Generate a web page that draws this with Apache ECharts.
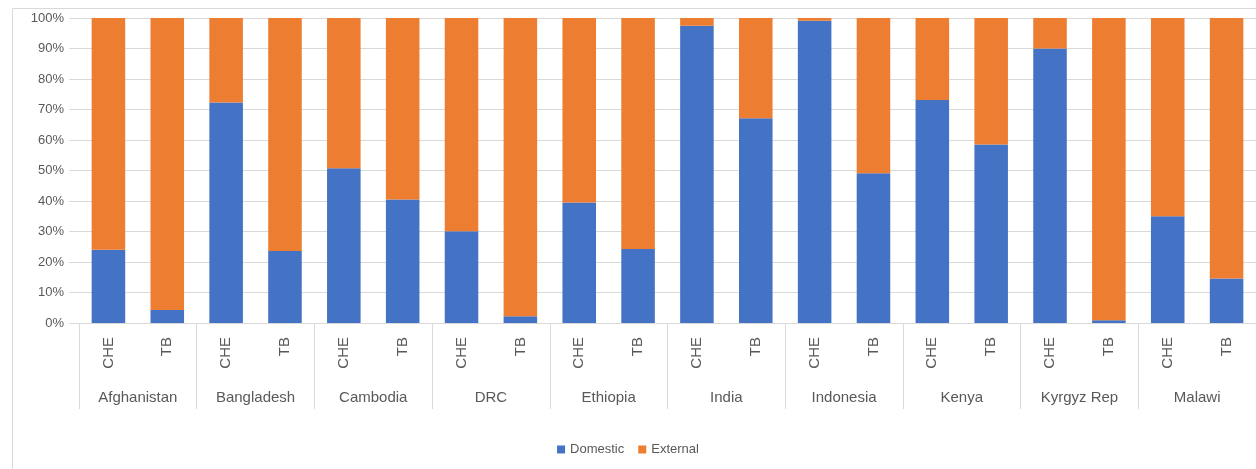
<!DOCTYPE html>
<html>
<head>
<meta charset="utf-8">
<script src="https://cdn.jsdelivr.net/npm/echarts@6/dist/echarts.min.js"></script>
<style>
  html, body { margin: 0; padding: 0; background: #fff; }
  #chart { width: 1256px; height: 469px; }
</style>
</head>
<body>
<div id="chart"></div>
<script>
// Financing share by country: CHE (current health expenditure) vs TB, domestic vs external
const countries = ['Afghanistan', 'Bangladesh', 'Cambodia', 'DRC', 'Ethiopia',
                   'India', 'Indonesia', 'Kenya', 'Kyrgyz Rep', 'Malawi'];
const measures = ['CHE', 'TB'];

// Domestic share (%) per country, in CHE/TB order
const domesticCHE = [24, 72.3, 50.7, 30.1, 39.5, 97.5, 99.1, 73.1, 90.0, 35.0];
const domesticTB  = [4.3, 23.6, 40.5, 2.2, 24.3, 67.1, 49.1, 58.5, 0.9, 14.6];

const yTicks = [0, 10, 20, 30, 40, 50, 60, 70, 80, 90, 100];

// Flatten into one bar per country/measure pair
const subLabels = [];
const domestic = [];
countries.forEach((c, i) => {
  subLabels.push(measures[0], measures[1]);
  domestic.push(domesticCHE[i], domesticTB[i]);
});
const external = domestic.map(v => +(100 - v).toFixed(1));

const textColor = '#595959';
const lineColor = '#d9d9d9';
const font = "'Liberation Sans', Arial, sans-serif";

const chart = echarts.init(document.getElementById('chart'), null, { renderer: 'canvas' });
chart.setOption({
  animation: false,
  textStyle: { fontFamily: font },
  graphic: [{
    type: 'rect',
    shape: { x: 12.5, y: 8.5, width: 1400, height: 600 },
    style: { fill: 'none', stroke: lineColor, lineWidth: 1 },
    silent: true,
    z: -1
  }],
  grid: { left: 79, right: 0, top: 18, bottom: 146, containLabel: false },
  legend: {
    bottom: 8,
    left: 'center',
    icon: 'rect',
    itemWidth: 8,
    itemHeight: 8,
    itemGap: 14,
    textStyle: { color: textColor, fontSize: 13, fontFamily: font },
    data: ['Domestic', 'External']
  },
  xAxis: [
    {
      type: 'category',
      data: subLabels,
      position: 'bottom',
      axisLine: { show: true, lineStyle: { color: lineColor, width: 1 } },
      axisTick: { show: false },
      axisLabel: {
        interval: 0,
        rotate: 90,
        margin: 14,
        color: textColor,
        fontSize: 15,
        fontFamily: font
      }
    },
    {
      type: 'category',
      data: countries,
      position: 'bottom',
      axisLine: { show: false },
      axisTick: { show: true, length: 86, lineStyle: { color: lineColor, width: 1 } },
      axisLabel: {
        interval: 0,
        margin: 67,
        color: textColor,
        fontSize: 15,
        fontFamily: font
      },
      splitLine: { show: false }
    }
  ],
  yAxis: {
    type: 'value',
    min: yTicks[0],
    max: yTicks[yTicks.length - 1],
    interval: yTicks[1] - yTicks[0],
    axisLine: { show: false },
    axisTick: { show: true, length: 10, lineStyle: { color: lineColor } },
    axisLabel: {
      formatter: '{value}%',
      color: textColor,
      fontSize: 13,
      margin: 15,
      fontFamily: font
    },
    splitLine: { lineStyle: { color: lineColor, width: 1 } }
  },
  series: [
    {
      name: 'Domestic',
      type: 'bar',
      stack: 'share',
      xAxisIndex: 0,
      barWidth: '57%',
      itemStyle: { color: '#4472c4' },
      data: domestic
    },
    {
      name: 'External',
      type: 'bar',
      stack: 'share',
      xAxisIndex: 0,
      barWidth: '57%',
      itemStyle: { color: '#ed7d31' },
      data: external
    }
  ]
});
</script>
</body>
</html>
